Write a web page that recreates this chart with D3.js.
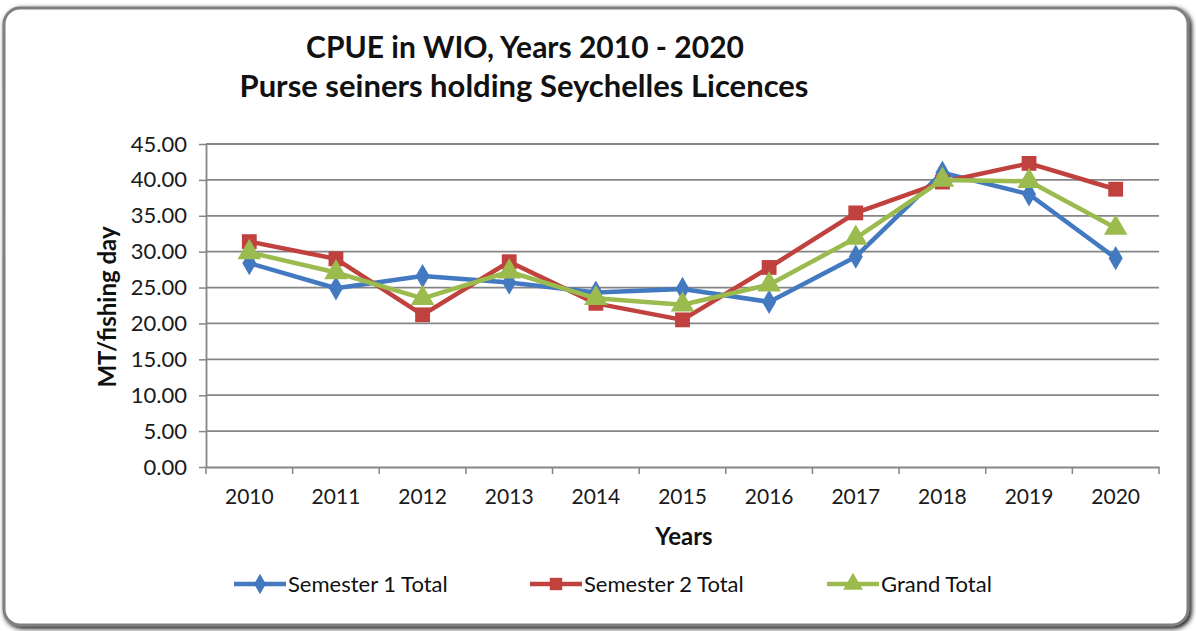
<!DOCTYPE html>
<html>
<head>
<meta charset="utf-8">
<script src="https://cdn.jsdelivr.net/npm/d3@7"></script>
<style>
  body { margin: 0; background: #fff; }
  .tick text { font-family: Lato, "Open Sans", sans-serif; fill: #1a1a1a; }
</style>
</head>
<body>
<div class="chart"></div>
<script>
var svgWidth = 1196;
var svgHeight = 631;

// chart values
var years = ["2010", "2011", "2012", "2013", "2014", "2015", "2016", "2017", "2018", "2019", "2020"];
var semester1 = [28.4, 24.9, 26.6, 25.7, 24.3, 24.8, 23.0, 29.3, 41.0, 38.0, 29.1];
var semester2 = [31.4, 29.0, 21.2, 28.6, 22.8, 20.5, 27.8, 35.4, 39.7, 42.3, 38.7];
var grandTotal = [29.9, 27.1, 23.5, 27.2, 23.5, 22.6, 25.4, 31.9, 40.0, 39.8, 33.3];
var yTicks = [0, 5, 10, 15, 20, 25, 30, 35, 40, 45];

var seriesNames = ["Semester 1 Total", "Semester 2 Total", "Grand Total"];
var seriesColors = ["#4279c0", "#c0413e", "#9bbb4f"];
var seriesShapes = [d3.symbolDiamond, d3.symbolSquare, d3.symbolTriangle];
var seriesData = [semester1, semester2, grandTotal];

var margin = { top: 144, left: 206, right: 37, bottom: 164 };
var width = svgWidth - margin.left - margin.right;
var height = svgHeight - margin.top - margin.bottom;

var svg = d3.select(".chart")
  .append("svg")
  .attr("width", svgWidth)
  .attr("height", svgHeight)
  .style("display", "block");

// frame shadow
var defs = svg.append("defs");
var shadow = defs.append("filter").attr("id", "shadow")
  .attr("x", "-5%").attr("y", "-5%").attr("width", "110%").attr("height", "110%");
shadow.append("feGaussianBlur").attr("in", "SourceAlpha").attr("stdDeviation", 2.5);
shadow.append("feOffset").attr("dx", 2).attr("dy", 2).attr("result", "off");
var merge = shadow.append("feMerge");
merge.append("feMergeNode").attr("in", "off");
merge.append("feMergeNode").attr("in", "SourceGraphic");

svg.append("rect")
  .attr("x", 4).attr("y", 8)
  .attr("width", 1184).attr("height", 617)
  .attr("rx", 16).attr("ry", 16)
  .attr("fill", "#fff")
  .attr("stroke", "#7f7f7f")
  .attr("stroke-width", 3)
  .attr("filter", "url(#shadow)");

// titles
svg.append("text")
  .attr("x", 525).attr("y", 58)
  .attr("text-anchor", "middle")
  .style("font", "bold 30px Lato, 'Open Sans', sans-serif")
  .style("fill", "#111")
  .text("CPUE in WIO, Years 2010 - 2020");

svg.append("text")
  .attr("x", 524).attr("y", 97)
  .attr("text-anchor", "middle")
  .style("font", "bold 31px Lato, 'Open Sans', sans-serif")
  .style("fill", "#111")
  .text("Purse seiners holding Seychelles Licences");

var chart = svg.append("g")
  .attr("transform", "translate(" + margin.left + "," + margin.top + ")");

var xScale = d3.scaleBand().domain(years).range([0, width]);
var yScale = d3.scaleLinear().domain([0, 45]).range([height, 0]);

// gridlines
chart.append("g")
  .selectAll("line")
  .data(yTicks.slice(1))
  .enter()
  .append("line")
  .attr("x1", 0).attr("x2", width)
  .attr("y1", function(d) { return yScale(d); })
  .attr("y2", function(d) { return yScale(d); })
  .attr("stroke", "#858585")
  .attr("stroke-width", 1.8);

// y axis
var leftAxis = d3.axisLeft(yScale)
  .tickValues(yTicks)
  .tickSize(7)
  .tickSizeOuter(0)
  .tickPadding(12)
  .tickFormat(d3.format(".2f"));

var yAxisG = chart.append("g").call(leftAxis);
yAxisG.select(".domain").attr("stroke", "#858585").attr("stroke-width", 1.8);
yAxisG.selectAll(".tick line").attr("stroke", "#858585").attr("stroke-width", 1.5);
yAxisG.selectAll(".tick text").style("font-size", "22px");

// x axis: ticks at category boundaries
var bottomAxis = d3.axisBottom(xScale).tickSize(0).tickSizeOuter(0).tickPadding(22);
var xAxisG = chart.append("g")
  .attr("transform", "translate(0," + height + ")")
  .call(bottomAxis);
xAxisG.select(".domain").attr("stroke", "#858585").attr("stroke-width", 1.8);
xAxisG.selectAll(".tick text").style("font-size", "21px");

var boundaries = years.map(function(d) { return xScale(d); }).concat([width]);
xAxisG.selectAll(".bnd")
  .data(boundaries)
  .enter()
  .append("line")
  .attr("class", "bnd")
  .attr("x1", function(d) { return d; })
  .attr("x2", function(d) { return d; })
  .attr("y1", 0).attr("y2", 7)
  .attr("stroke", "#858585")
  .attr("stroke-width", 1.5);

// axis titles
svg.append("text")
  .attr("transform", "translate(116,307) rotate(-90)")
  .attr("text-anchor", "middle")
  .style("font", "bold 24px Lato, 'Open Sans', sans-serif")
  .style("fill", "#111")
  .text("MT/fishing day");

svg.append("text")
  .attr("x", 684).attr("y", 545)
  .attr("text-anchor", "middle")
  .style("font", "bold 24px Lato, 'Open Sans', sans-serif")
  .style("fill", "#111")
  .text("Years");

// series lines and markers
var lineGen = d3.line()
  .x(function(d, i) { return xScale(years[i]) + xScale.bandwidth() / 2; })
  .y(function(d) { return yScale(d); });

var markerSizes = [170, 220, 240];

seriesData.forEach(function(values, s) {
  chart.append("path")
    .datum(values)
    .attr("d", lineGen)
    .attr("fill", "none")
    .attr("stroke", seriesColors[s])
    .attr("stroke-width", 4.5)
    .attr("stroke-linejoin", "round");

  chart.selectAll(".m" + s)
    .data(values)
    .enter()
    .append("path")
    .attr("class", "m" + s)
    .attr("d", d3.symbol().type(seriesShapes[s]).size(markerSizes[s]))
    .attr("transform", function(d, i) {
      return "translate(" + (xScale(years[i]) + xScale.bandwidth() / 2) + "," + yScale(d) + ")";
    })
    .attr("fill", seriesColors[s]);
});

// legend
var legendX = [234, 530, 827];
var legend = svg.append("g");
seriesNames.forEach(function(name, s) {
  var g = legend.append("g").attr("transform", "translate(" + legendX[s] + ",584)");
  g.append("line")
    .attr("x1", 0).attr("x2", 52)
    .attr("y1", 0).attr("y2", 0)
    .attr("stroke", seriesColors[s])
    .attr("stroke-width", 4.5);
  g.append("path")
    .attr("d", d3.symbol().type(seriesShapes[s]).size(markerSizes[s] * 0.7))
    .attr("transform", "translate(26,0)")
    .attr("fill", seriesColors[s]);
  g.append("text")
    .attr("x", 54).attr("y", 8)
    .style("font", "22px Lato, 'Open Sans', sans-serif")
    .style("fill", "#111")
    .text(name);
});
</script>
</body>
</html>
